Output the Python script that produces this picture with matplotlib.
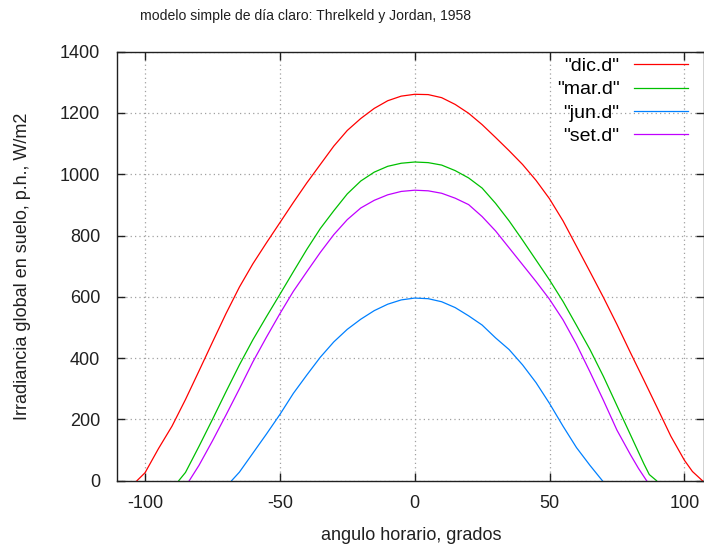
import matplotlib
matplotlib.use('Agg')
import matplotlib.pyplot as plt

# hour angle (deg) and irradiance (W/m2)
dic_h = [-103, -100, -95, -90, -85, -80, -75, -70, -65, -60, -55, -50, -45, -40, -35, -30, -25, -20, -15, -10, -5, 0,
	5, 10, 15, 20, 25, 30, 35, 40, 45, 50, 55, 60, 65, 70, 75, 80, 85, 90, 95, 100, 103, 106.7]
dic_I = [0, 26, 105, 178, 265, 358, 452, 545, 632, 708, 776, 842, 908, 972, 1032, 1092, 1143, 1182, 1215, 1240, 1255, 1261,
	1260, 1250, 1228, 1199, 1162, 1120, 1077, 1032, 980, 920, 848, 765, 682, 598, 510, 418, 328, 237, 145, 67, 30, 0]

mar_h = [-87.5, -85, -80, -75, -70, -65, -60, -55, -50, -45, -40, -35, -30, -25, -20, -15, -10, -5, 0,
	5, 10, 15, 20, 25, 30, 35, 40, 45, 50, 55, 60, 65, 70, 75, 80, 85, 87, 89.7]
mar_I = [0, 27, 112, 200, 290, 378, 460, 535, 608, 682, 755, 823, 881, 936, 978, 1007, 1026, 1036, 1040,
	1038, 1030, 1012, 988, 955, 905, 848, 785, 720, 655, 585, 507, 428, 340, 245, 150, 55, 20, 0]

jun_h = [-67.9, -65, -60, -55, -50, -45, -40, -35, -30, -25, -20, -15, -10, -5, 0,
	5, 10, 15, 20, 25, 30, 35, 40, 45, 50, 55, 60, 65, 69.6]
jun_I = [0, 28, 90, 152, 216, 285, 345, 403, 453, 494, 527, 555, 576, 590, 596,
	594, 584, 565, 538, 508, 466, 428, 378, 320, 252, 178, 108, 50, 0]

set_h = [-83.6, -80, -75, -70, -65, -60, -55, -50, -45, -40, -35, -30, -25, -20, -15, -10, -5, 0,
	5, 10, 15, 20, 25, 30, 35, 40, 45, 50, 55, 60, 65, 70, 75, 80, 83, 86]
set_I = [0, 50, 130, 214, 300, 388, 468, 545, 618, 682, 745, 803, 852, 890, 915, 933, 944, 948,
	946, 938, 922, 901, 862, 815, 760, 705, 650, 592, 525, 445, 355, 262, 165, 85, 40, 0]

series = [('"dic.d"', dic_h, dic_I, '#ff0000'),
          ('"mar.d"', mar_h, mar_I, '#00c000'),
          ('"jun.d"', jun_h, jun_I, '#0080ff'),
          ('"set.d"', set_h, set_I, '#c000ff')]

xticks = [-100, -50, 0, 50, 100]
yticks = [0, 200, 400, 600, 800, 1000, 1200, 1400]

plt.rcParams['font.family'] = ['Liberation Sans', 'DejaVu Sans']
plt.rcParams['axes.unicode_minus'] = False
fs = 13

W, H = 704, 547
fig = plt.figure(figsize=(W/100, H/100), dpi=100, facecolor='w')
ax = fig.add_axes([117/W, (H-480.7)/H, (703.5-117)/W, (480.7-51.7)/H])

for name, h, I, c in series:
	ax.plot(h, I, '-', color=c, lw=0.9, label=name)

ax.set_xlim(-110.4, 107.1)
ax.set_ylim(0, 1400)
ax.set_xticks(xticks)
ax.set_yticks(yticks)
ax.tick_params(direction='in', length=6, width=1, labelsize=fs, colors='#202020',
	top=True, right=True, pad=12)
ax.tick_params(axis='x', pad=10)
for s in ax.spines.values():
	s.set_linewidth(1.0)
	s.set_color('#202020')
ax.grid(True, color='#a0a0a0', linestyle=(0, (1, 2.5)), lw=0.9)

leg = ax.legend(loc='upper right', frameon=False, markerfirst=False, fontsize=fs + 1,
	handlelength=2.8, handletextpad=0.72, labelspacing=0.3, borderaxespad=0.2,
	bbox_to_anchor=(0.9935, 1.014))
for t in leg.get_texts():
	t.set_ha('right')

fig.text(305/W, 1 - 16/H, u'modelo simple de día claro: Threlkeld y Jordan, 1958',
	ha='center', va='center', fontsize=10.1, color='#202020')
fig.text(411/W, 1 - 535/H, 'angulo horario, grados', ha='center', va='center',
	fontsize=fs, color='#202020')
fig.text(23/W, 1 - 266.5/H, 'Irradiancia global en suelo, p.h., W/m2', ha='center',
	va='center', rotation=90, fontsize=fs, color='#202020')

fig.savefig('out.png', dpi=100)
